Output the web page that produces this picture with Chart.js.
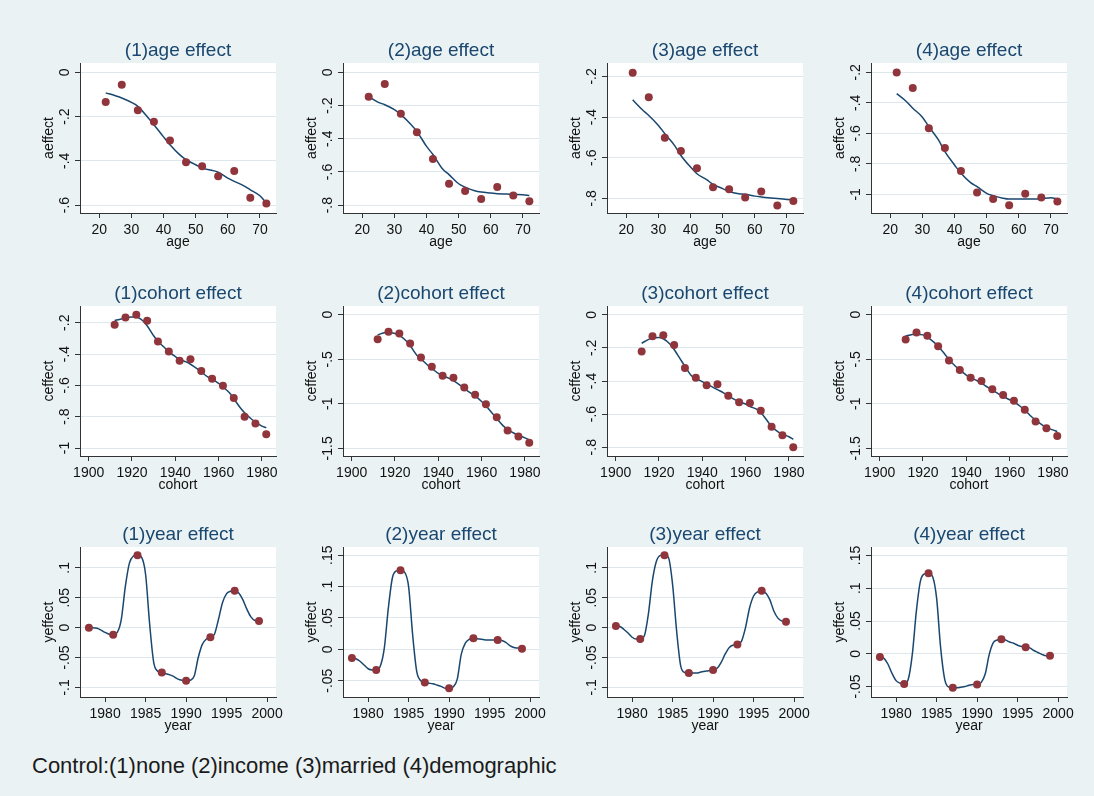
<!DOCTYPE html>
<html>
<head>
<meta charset="utf-8">
<script src="https://cdn.jsdelivr.net/npm/chart.js@4.4.1/dist/chart.umd.min.js"></script>
<style>
  html, body { margin: 0; padding: 0; }
  body { width: 1094px; height: 796px; background: #eaf2f3; position: relative; overflow: hidden; }
  canvas { position: absolute; }
  #caption {
    position: absolute; left: 32px; top: 753px;
    font: 22px "Liberation Sans", Arial, sans-serif; color: #1b1b1b; white-space: nowrap;
  }
</style>
</head>
<body>
<div id="caption">Control:(1)none (2)income (3)married (4)demographic</div>
<script>
// ---- data ----
const ageX = [22, 27, 32, 37, 42, 47, 52, 57, 62, 67, 72]
const ageEffect1 = [-0.134, -0.056, -0.172, -0.223, -0.308, -0.407, -0.425, -0.470, -0.446, -0.567, -0.593]
const ageEffect2 = [-0.147, -0.070, -0.249, -0.361, -0.522, -0.671, -0.715, -0.763, -0.691, -0.741, -0.777]
const ageEffect3 = [-0.182, -0.303, -0.502, -0.567, -0.652, -0.745, -0.755, -0.796, -0.766, -0.835, -0.813]
const ageEffect4 = [-0.202, -0.303, -0.567, -0.696, -0.847, -0.987, -1.031, -1.072, -0.996, -1.020, -1.046]

const ageFitX = [22, 25, 27, 30, 32, 35, 37, 40, 42, 45, 47, 50, 52, 55, 57, 60, 62, 65, 67, 70, 72]
const ageFit1 = [-0.093, -0.106, -0.116, -0.136, -0.154, -0.202, -0.237, -0.292, -0.327, -0.372, -0.395, -0.418, -0.433, -0.443, -0.452, -0.478, -0.493, -0.513, -0.531, -0.558, -0.591]
const ageFit2 = [-0.147, -0.181, -0.195, -0.225, -0.255, -0.311, -0.356, -0.446, -0.495, -0.582, -0.616, -0.671, -0.691, -0.713, -0.721, -0.727, -0.731, -0.733, -0.735, -0.737, -0.741]
const ageFit3 = [-0.315, -0.364, -0.392, -0.441, -0.482, -0.539, -0.589, -0.646, -0.679, -0.708, -0.731, -0.752, -0.766, -0.777, -0.780, -0.789, -0.793, -0.798, -0.801, -0.805, -0.807]
const ageFit4 = [-0.340, -0.391, -0.435, -0.494, -0.556, -0.643, -0.720, -0.807, -0.862, -0.923, -0.949, -0.993, -1.008, -1.025, -1.031, -1.031, -1.031, -1.031, -1.029, -1.022, -1.031]

const cohortX = [1912, 1917, 1922, 1927, 1932, 1937, 1942, 1947, 1952, 1957, 1962, 1967, 1972, 1977, 1982]
const cohortEffect1 = [-0.213, -0.166, -0.149, -0.187, -0.320, -0.384, -0.442, -0.433, -0.508, -0.557, -0.602, -0.681, -0.801, -0.844, -0.912]
const cohortEffect2 = [-0.274, -0.192, -0.211, -0.323, -0.481, -0.583, -0.684, -0.707, -0.816, -0.898, -1.004, -1.150, -1.301, -1.368, -1.436]
const cohortEffect3 = [-0.222, -0.129, -0.123, -0.182, -0.321, -0.380, -0.426, -0.420, -0.489, -0.529, -0.533, -0.580, -0.677, -0.727, -0.800]
const cohortEffect4 = [-0.278, -0.199, -0.237, -0.353, -0.515, -0.620, -0.707, -0.744, -0.838, -0.902, -0.966, -1.068, -1.199, -1.274, -1.361]

const cohortFitX = [1912, 1915, 1917, 1920, 1922, 1925, 1927, 1930, 1932, 1935, 1937, 1940, 1942, 1945, 1947, 1950, 1952, 1955, 1957, 1960, 1962, 1965, 1967, 1970, 1972, 1975, 1977, 1980, 1982]
const cohortFit1 = [-0.185, -0.176, -0.167, -0.163, -0.163, -0.187, -0.219, -0.283, -0.319, -0.358, -0.386, -0.416, -0.433, -0.450, -0.465, -0.493, -0.514, -0.546, -0.561, -0.587, -0.610, -0.647, -0.685, -0.743, -0.775, -0.813, -0.835, -0.860, -0.871]
const cohortFit2 = [-0.226, -0.203, -0.199, -0.211, -0.233, -0.289, -0.346, -0.451, -0.496, -0.564, -0.602, -0.658, -0.684, -0.714, -0.741, -0.790, -0.827, -0.880, -0.910, -0.974, -1.023, -1.109, -1.165, -1.248, -1.286, -1.331, -1.353, -1.383, -1.406]
const cohortFit3 = [-0.172, -0.150, -0.141, -0.137, -0.145, -0.176, -0.210, -0.271, -0.311, -0.368, -0.384, -0.404, -0.418, -0.438, -0.452, -0.473, -0.489, -0.513, -0.525, -0.539, -0.554, -0.570, -0.590, -0.640, -0.675, -0.707, -0.721, -0.737, -0.752]
const cohortFit4 = [-0.241, -0.222, -0.218, -0.226, -0.252, -0.308, -0.353, -0.440, -0.504, -0.579, -0.620, -0.677, -0.707, -0.741, -0.767, -0.816, -0.846, -0.891, -0.917, -0.955, -0.977, -1.030, -1.071, -1.143, -1.184, -1.237, -1.267, -1.293, -1.312]

const yearX = [1978, 1981, 1984, 1987, 1990, 1993, 1996, 1999]
const yearEffect1 = [0.000, -0.012, 0.121, -0.075, -0.089, -0.016, 0.062, 0.011]
const yearEffect2 = [-0.014, -0.033, 0.126, -0.053, -0.062, 0.0175, 0.015, 0.001]
const yearEffect3 = [0.003, -0.019, 0.121, -0.076, -0.071, -0.028, 0.062, 0.010]
const yearEffect4 = [-0.005, -0.046, 0.123, -0.052, -0.047, 0.022, 0.010, -0.003]

const yearFitX = [1978, 1978.5, 1979, 1979.5, 1980, 1980.5, 1981, 1981.5, 1982, 1982.5, 1983, 1983.5, 1984, 1984.5,
  1985, 1985.5, 1986, 1986.5, 1987, 1987.5, 1988, 1988.5, 1989, 1989.5, 1990, 1990.5, 1991, 1991.5, 1992, 1992.5,
  1993, 1993.5, 1994, 1994.5, 1995, 1995.5, 1996, 1996.5, 1997, 1997.5, 1998, 1998.5, 1999]
const yearFit1 = [0.000, 0.000, -0.001, -0.004, -0.008, -0.011, -0.012, -0.008, 0.014, 0.069, 0.108, 0.120, 0.122, 0.118,
  0.089, 0.006, -0.058, -0.073, -0.076, -0.077, -0.079, -0.082, -0.086, -0.088, -0.089, -0.088, -0.081, -0.050, -0.028, -0.019,
  -0.016, -0.011, 0.014, 0.042, 0.057, 0.061, 0.062, 0.058, 0.047, 0.031, 0.018, 0.012, 0.011]
const yearFit2 = [-0.014, -0.015, -0.019, -0.025, -0.031, -0.033, -0.033, -0.027, 0.002, 0.066, 0.114, 0.125, 0.126, 0.123,
  0.100, 0.023, -0.035, -0.050, -0.053, -0.054, -0.055, -0.057, -0.059, -0.062, -0.062, -0.060, -0.048, -0.008, 0.010, 0.016,
  0.0175, 0.017, 0.016, 0.015, 0.015, 0.015, 0.015, 0.014, 0.011, 0.006, 0.003, 0.002, 0.001]
const yearFit3 = [0.003, 0.002, -0.003, -0.009, -0.016, -0.019, -0.019, -0.014, 0.022, 0.078, 0.111, 0.121, 0.122, 0.117,
  0.072, -0.006, -0.064, -0.075, -0.076, -0.076, -0.076, -0.074, -0.073, -0.072, -0.071, -0.068, -0.058, -0.044, -0.033, -0.029,
  -0.028, -0.023, 0.000, 0.033, 0.053, 0.060, 0.062, 0.058, 0.047, 0.028, 0.016, 0.011, 0.010]
const yearFit4 = [-0.005, -0.007, -0.016, -0.030, -0.041, -0.045, -0.046, -0.039, -0.001, 0.065, 0.111, 0.122, 0.123, 0.118,
  0.085, 0.009, -0.039, -0.051, -0.052, -0.052, -0.051, -0.050, -0.048, -0.047, -0.047, -0.044, -0.031, -0.001, 0.017, 0.021,
  0.022, 0.021, 0.018, 0.016, 0.013, 0.011, 0.010, 0.009, 0.005, 0.002, -0.001, -0.003, -0.003]

// tick labels
const ageTicks = [20, 30, 40, 50, 60, 70]
const cohortTicks = [1900, 1920, 1940, 1960, 1980]
const yearTicks = [1980, 1985, 1990, 1995, 2000]
const yTicksA1 = [0, -0.2, -0.4, -0.6]
const yTicksA2 = [0, -0.2, -0.4, -0.6, -0.8]
const yTicksA3 = [-0.2, -0.4, -0.6, -0.8]
const yTicksA4 = [-0.2, -0.4, -0.6, -0.8, -1]
const yTicksC1 = [-0.2, -0.4, -0.6, -0.8, -1]
const yTicksC2 = [0, -0.5, -1, -1.5]
const yTicksC3 = [0, -0.2, -0.4, -0.6, -0.8]
const yTicksY1 = [0.1, 0.05, 0, -0.05, -0.1]
const yTicksY2 = [0.15, 0.1, 0.05, 0, -0.05]

// ---- layout and styling ----
const FONT = '"Liberation Sans", Arial, sans-serif'
const TITLE_COLOR = '#1a476f'
const LINE_COLOR = '#1a476f'
const POINT_COLOR = '#90353b'
const GRID_COLOR = 'rgb(222, 231, 235)'
const AXIS_COLOR = '#333'

const colLeft = [80, 343, 607, 871]
const rowTop = [63, 306, 547]
const PLOT_W = 196
const PLOT_H = 150
const M = { left: 50, top: 35, right: 14, bottom: 45 }

const panels = [
  { r: 0, c: 0, title: '(1)age effect', xt: 'age', yt: 'aeffect', px: ageX, py: ageEffect1, fx: ageFitX, fy: ageFit1, xTicks: ageTicks, yTicks: yTicksA1, xr: [14, 75], yr: [-0.636, 0.042] },
  { r: 0, c: 1, title: '(2)age effect', xt: 'age', yt: 'aeffect', px: ageX, py: ageEffect2, fx: ageFitX, fy: ageFit2, xTicks: ageTicks, yTicks: yTicksA2, xr: [14, 75], yr: [-0.847, 0.056] },
  { r: 0, c: 2, title: '(3)age effect', xt: 'age', yt: 'aeffect', px: ageX, py: ageEffect3, fx: ageFitX, fy: ageFit3, xTicks: ageTicks, yTicks: yTicksA3, xr: [14, 75], yr: [-0.872, -0.134] },
  { r: 0, c: 3, title: '(4)age effect', xt: 'age', yt: 'aeffect', px: ageX, py: ageEffect4, fx: ageFitX, fy: ageFit4, xTicks: ageTicks, yTicks: yTicksA4, xr: [14, 75], yr: [-1.122, -0.139] },
  { r: 1, c: 0, title: '(1)cohort effect', xt: 'cohort', yt: 'ceffect', px: cohortX, py: cohortEffect1, fx: cohortFitX, fy: cohortFit1, xTicks: cohortTicks, yTicks: yTicksC1, xr: [1896, 1986.5], yr: [-1.051, -0.093] },
  { r: 1, c: 1, title: '(2)cohort effect', xt: 'cohort', yt: 'ceffect', px: cohortX, py: cohortEffect2, fx: cohortFitX, fy: cohortFit2, xTicks: cohortTicks, yTicks: yTicksC2, xr: [1896, 1986.5], yr: [-1.586, 0.098] },
  { r: 1, c: 2, title: '(3)cohort effect', xt: 'cohort', yt: 'ceffect', px: cohortX, py: cohortEffect3, fx: cohortFitX, fy: cohortFit3, xTicks: cohortTicks, yTicks: yTicksC3, xr: [1896, 1986.5], yr: [-0.853, 0.053] },
  { r: 1, c: 3, title: '(4)cohort effect', xt: 'cohort', yt: 'ceffect', px: cohortX, py: cohortEffect4, fx: cohortFitX, fy: cohortFit4, xTicks: cohortTicks, yTicks: yTicksC2, xr: [1896, 1986.5], yr: [-1.586, 0.098] },
  { r: 2, c: 0, title: '(1)year effect', xt: 'year', yt: 'yeffect', px: yearX, py: yearEffect1, fx: yearFitX, fy: yearFit1, xTicks: yearTicks, yTicks: yTicksY1, xr: [1976.9, 2001.1], yr: [-0.116, 0.135] },
  { r: 2, c: 1, title: '(2)year effect', xt: 'year', yt: 'yeffect', px: yearX, py: yearEffect2, fx: yearFitX, fy: yearFit2, xTicks: yearTicks, yTicks: yTicksY2, xr: [1976.9, 2001.1], yr: [-0.076, 0.163] },
  { r: 2, c: 2, title: '(3)year effect', xt: 'year', yt: 'yeffect', px: yearX, py: yearEffect3, fx: yearFitX, fy: yearFit3, xTicks: yearTicks, yTicks: yTicksY1, xr: [1976.9, 2001.1], yr: [-0.116, 0.135] },
  { r: 2, c: 3, title: '(4)year effect', xt: 'year', yt: 'yeffect', px: yearX, py: yearEffect4, fx: yearFitX, fy: yearFit4, xTicks: yearTicks, yTicks: yTicksY2, xr: [1976.9, 2001.1], yr: [-0.066, 0.163] }
]

// Stata style number labels: -.2, .05, -1.5
function stataLabel(v) {
  if (Math.abs(v) < 1e-9) return '0'
  return String(+v.toFixed(3)).replace(/^(-?)0\./, '$1.')
}

const panelText = {
  id: 'panelText',
  beforeDraw(chart) {
    const { ctx, chartArea: a } = chart
    ctx.save()
    ctx.fillStyle = '#fff'
    ctx.fillRect(a.left, a.top, a.right - a.left, a.bottom - a.top)
    ctx.restore()
  },
  afterDraw(chart, args, opts) {
    const { ctx, chartArea: a, scales } = chart
    const cx = (a.left + a.right) / 2
    ctx.save()
    ctx.textAlign = 'center'
    ctx.textBaseline = 'middle'
    ctx.fillStyle = TITLE_COLOR
    ctx.font = '19px ' + FONT
    ctx.fillText(opts.title, cx, a.top - 12)

    ctx.fillStyle = '#111'
    ctx.font = '14px ' + FONT
    scales.x.ticks.forEach((t) => {
      ctx.fillText(stataLabel(t.value), scales.x.getPixelForValue(t.value), a.bottom + 17.5)
    })
    ctx.fillText(opts.xTitle, cx, a.bottom + 29.5)

    scales.y.ticks.forEach((t) => {
      ctx.save()
      ctx.translate(a.left - 15, scales.y.getPixelForValue(t.value))
      ctx.rotate(-Math.PI / 2)
      ctx.fillText(stataLabel(t.value), 0, 0)
      ctx.restore()
    })
    ctx.save()
    ctx.translate(a.left - 31, (a.top + a.bottom) / 2)
    ctx.rotate(-Math.PI / 2)
    ctx.fillText(opts.yTitle, 0, 0)
    ctx.restore()
    ctx.restore()
  }
}

function fixSize(prop, size) {
  return function (s) {
    s[prop] = size
    s.paddingLeft = s.paddingRight = s.paddingTop = s.paddingBottom = 0
  }
}

function makePanel(p) {
  const canvas = document.createElement('canvas')
  const w = M.left + PLOT_W + M.right
  const h = M.top + PLOT_H + M.bottom
  canvas.width = w
  canvas.height = h
  canvas.style.width = w + 'px'
  canvas.style.height = h + 'px'
  canvas.style.left = colLeft[p.c] - M.left + 'px'
  canvas.style.top = rowTop[p.r] - M.top + 'px'
  document.body.appendChild(canvas)

  new Chart(canvas, {
    type: 'scatter',
    data: {
      datasets: [
        {
          data: p.px.map((x, i) => ({ x: x, y: p.py[i] })),
          pointRadius: 4,
          pointBackgroundColor: POINT_COLOR,
          pointBorderColor: POINT_COLOR,
          pointBorderWidth: 0,
          showLine: false
        },
        {
          data: p.fx.map((x, i) => ({ x: x, y: p.fy[i] })),
          showLine: true,
          pointRadius: 0,
          borderColor: LINE_COLOR,
          borderWidth: 1.5,
          cubicInterpolationMode: 'monotone',
          fill: false
        }
      ]
    },
    options: {
      responsive: false,
      animation: false,
      devicePixelRatio: 1,
      events: [],
      layout: { padding: { left: 0, top: M.top, right: M.right, bottom: 0 } },
      plugins: {
        legend: { display: false },
        tooltip: { enabled: false },
        panelText: { title: p.title, xTitle: p.xt, yTitle: p.yt }
      },
      scales: {
        x: {
          type: 'linear',
          min: p.xr[0],
          max: p.xr[1],
          afterBuildTicks: (s) => { s.ticks = p.xTicks.map((v) => ({ value: v })) },
          afterFit: fixSize('height', M.bottom),
          ticks: { display: false },
          grid: { drawOnChartArea: false, drawTicks: true, tickLength: 5, tickColor: AXIS_COLOR, tickWidth: 1 },
          border: { display: true, color: AXIS_COLOR, width: 1 }
        },
        y: {
          type: 'linear',
          min: p.yr[0],
          max: p.yr[1],
          afterBuildTicks: (s) => { s.ticks = p.yTicks.map((v) => ({ value: v })) },
          afterFit: fixSize('width', M.left),
          ticks: { display: false },
          grid: { color: GRID_COLOR, lineWidth: 1, drawTicks: true, tickLength: 5, tickColor: AXIS_COLOR, tickWidth: 1 },
          border: { display: true, color: AXIS_COLOR, width: 1 }
        }
      }
    },
    plugins: [panelText]
  })
}

panels.forEach(makePanel)
</script>
</body>
</html>
